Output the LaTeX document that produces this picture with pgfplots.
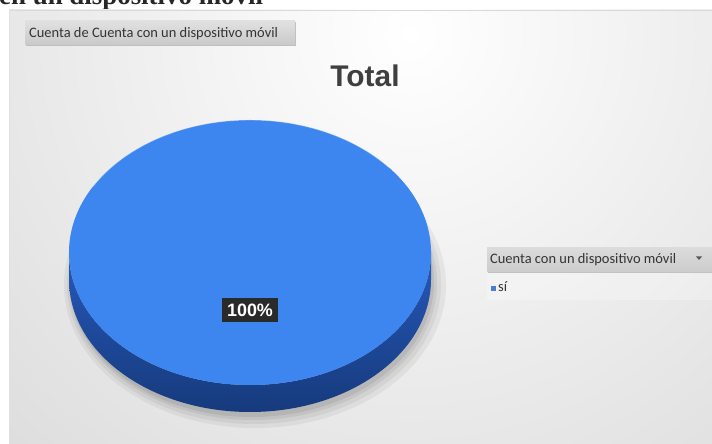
\documentclass[border=0pt]{standalone}
\usepackage{fontspec}
\setmainfont{Carlito}
\newfontfamily\arialf{Liberation Sans}
\newfontfamily\timesf{Liberation Serif}
\usepackage{pgfplots}
\pgfplotsset{compat=1.18}
\usepackage{pgfplotstable}

\definecolor{pietop}{HTML}{3D85EF}
\definecolor{piesideA}{HTML}{2659BA}
\definecolor{piesideB}{HTML}{163A7C}
\definecolor{panelout}{HTML}{C2C2C2}
\definecolor{labelbg}{HTML}{2A2A2A}
\definecolor{titlegray}{HTML}{3F3F3F}
\definecolor{txtgray}{HTML}{333333}
\definecolor{legblue}{HTML}{4A80D4}

\pgfplotstableread{
label value
sí 100
}\piedata

\begin{document}
\begin{tikzpicture}
\pgfplotstablegetelem{0}{value}\of\piedata
\let\pieval\pgfplotsretval
\pgfplotstablegetelem{0}{label}\of\piedata
\let\pielabel\pgfplotsretval
\pgfmathsetmacro\sliceang{3.6*\pieval}
\begin{axis}[width=712bp,height=444bp,scale only axis,
  xmin=0,xmax=712,ymin=0,ymax=444,hide axis,clip=false]
\coordinate (BL) at (0,0);
\coordinate (TR) at (712,444);
\clip (0,0) rectangle (712,444);
% white page
\fill[white] (0,0) rectangle (712,444);
% heading text of the page, cut off at the top as in the reference
\node[anchor=base west,inner sep=0,text=black!85,
  font=\timesf\bfseries\fontsize{27}{27}\selectfont] at (-1,439) {en un dispositivo móvil};
% chart panel with radial gradient
\begin{scope}
\clip (9,0) rectangle (712,434);
\shade[inner color=white,outer color=panelout] (410,410) circle [radius=1050bp];
\end{scope}
\draw[black!15,line width=0.8bp] (9,434) -- (712,434);
\draw[black!12,line width=0.6bp] (9,0) -- (9,434);
% field button "Cuenta de Cuenta ..."
\fill[black!25] (26,398) rectangle (296,422);
\shade[top color=black!12,bottom color=black!21] (25,399) rectangle (295,423);
\node[anchor=base west,inner sep=0,text=txtgray,
  font=\fontsize{14.5}{14.5}\selectfont] at (29,406) {Cuenta de Cuenta con un dispositivo móvil};
% title
\node[anchor=base,inner sep=0,text=titlegray,
  font=\arialf\bfseries\fontsize{30}{30}\selectfont] at (365,357) {Total};
% pie shadow
\fill[black,opacity=0.05] (255,159) ellipse [x radius=191bp, y radius=143bp];
\fill[black,opacity=0.05] (254,160) ellipse [x radius=187bp, y radius=140bp];
\fill[black,opacity=0.06] (253,161) ellipse [x radius=184bp, y radius=137bp];
\fill[black,opacity=0.07] (252,162) ellipse [x radius=182bp, y radius=135bp];
% pie side (3D depth)
\shade[top color=piesideA,bottom color=piesideB]
  (69,191.5) -- (69,164.5)
  arc[start angle=180,end angle=360,x radius=181bp,y radius=132.5bp]
  -- (431,191.5)
  arc[start angle=0,end angle=-180,x radius=181bp,y radius=132.5bp] -- cycle;
% pie top face: one slice spanning \sliceang degrees (full ellipse)
\fill[pietop] (250,191.5) ellipse [x radius=181bp, y radius=132.5bp];
\draw[white,opacity=0.35,line width=0.9bp]
  (250,191.5) ++(150:181bp and 132.5bp)
  arc[start angle=150,end angle=40,x radius=181bp,y radius=132.5bp];
% data label
\node[fill=labelbg,text=white,inner xsep=5bp,inner ysep=5.5bp,
  text height=13bp,text depth=0bp,
  font=\arialf\bfseries\fontsize{18}{18}\selectfont] at (250,134) {\pieval\%};
% legend header
\fill[black!24] (488,171) rectangle (712,195);
\shade[top color=black!14,bottom color=black!20] (487,172) rectangle (712,196);
\node[anchor=base west,inner sep=0,text=txtgray,
  font=\fontsize{14.5}{14.5}\selectfont] at (490,180) {Cuenta con un dispositivo móvil};
\fill[black!65] (696,187.5) -- (702,187.5) -- (699,184) -- cycle;
% legend entry
\fill[white,opacity=0.25] (487,144) rectangle (712,171);
\fill[legblue] (491,153) rectangle (496,158);
\node[anchor=base west,inner sep=0,text=txtgray,
  font=\fontsize{14.5}{14.5}\selectfont] at (498,152) {\pielabel};
\end{axis}
\pgfresetboundingbox
\path[use as bounding box] (BL) rectangle (TR);
\end{tikzpicture}
\end{document}
